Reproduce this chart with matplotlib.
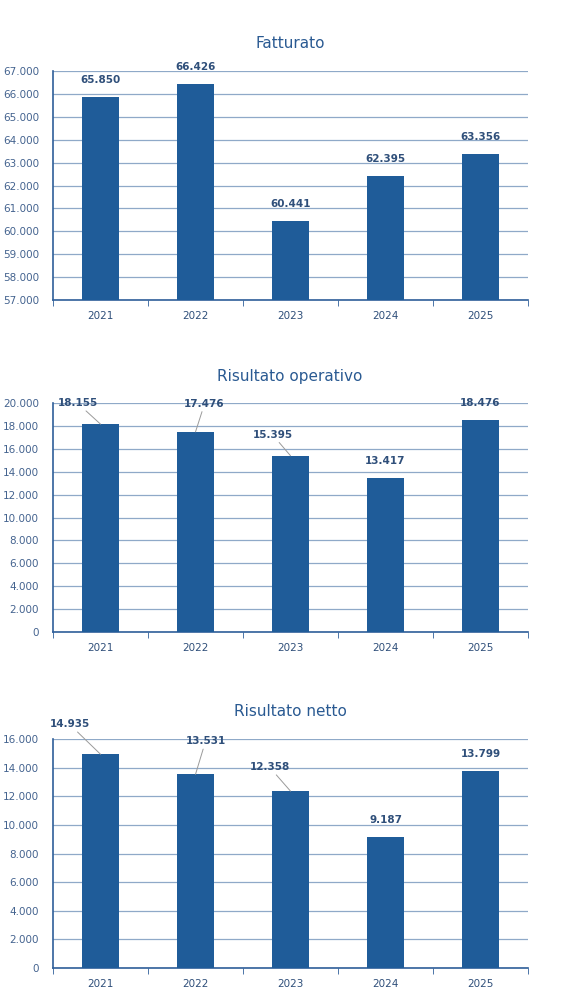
import matplotlib
matplotlib.use("Agg")
import matplotlib.pyplot as plt
import numpy as np

years = ["2021", "2022", "2023", "2024", "2025"]
fatturato = [65850, 66426, 60441, 62395, 63356]
operativo = [18155, 17476, 15395, 13417, 18476]
netto = [14935, 13531, 12358, 9187, 13799]
titles = ["Fatturato", "Risultato operativo", "Risultato netto"]

BAR = "#1f5c99"
GRID = "#8fa9c8"
TXT = "#44638f"
LBL = "#2f4f7a"

fig = plt.figure(figsize=(5.79, 10.06), dpi=100)

def fmt(v):
    return f"{int(v):,}".replace(",", ".")

# (offset_x_px, offset_y_px, leader) for labels relative to bar top
specs = [
    dict(data=fatturato, ylim=(57000, 67000), step=1000, bottom=300, top=71,
         offs=[(0, 12, False), (0, 12, False), (0, 12, False), (0, 12, False), (0, 12, False)]),
    dict(data=operativo, ylim=(0, 20000), step=2000, bottom=632, top=403,
         offs=[(-23, 16, True), (9, 23, True), (-18, 16, True), (0, 12, False), (0, 12, False)]),
    dict(data=netto, ylim=(0, 16000), step=2000, bottom=968, top=739,
         offs=[(-31, 25, True), (10, 28, True), (-21, 19, True), (0, 12, False), (0, 12, False)]),
]

x = np.arange(len(years))
for title, s in zip(titles, specs):
    ax = fig.add_axes([53/579, 1 - s["bottom"]/1006, 475/579, (s["bottom"]-s["top"])/1006])
    ax.bar(x, s["data"], width=0.39, color=BAR, zorder=3)
    ax.set_xlim(-0.5, len(years) - 0.5)
    ax.set_ylim(*s["ylim"])
    yt = np.arange(s["ylim"][0], s["ylim"][1] + 1, s["step"])
    ax.set_yticks(yt)
    ax.set_yticklabels([fmt(v) for v in yt], fontsize=7.5, color=TXT)
    ax.yaxis.grid(True, color=GRID, linewidth=0.9, zorder=0)
    ax.tick_params(axis="y", length=0, pad=10)
    ax.set_xticks(x)
    ax.set_xticklabels(years, fontsize=7.5, color=LBL)
    ax.set_xticks(np.arange(-0.5, len(years)), minor=True)
    ax.tick_params(axis="x", which="major", length=0, pad=8)
    ax.tick_params(axis="x", which="minor", length=4, color="#2f5f9a", direction="out")
    for sp in ["top", "right"]:
        ax.spines[sp].set_visible(False)
    for sp in ["left", "bottom"]:
        ax.spines[sp].set_color("#2f5f9a")
        ax.spines[sp].set_linewidth(1.2)
    for i, v in enumerate(s["data"]):
        dx, dy, leader = s["offs"][i]
        ax.annotate(fmt(v), xy=(i, v), xytext=(dx, dy), textcoords="offset pixels",
                    ha="center", va="bottom", fontsize=7.5, fontweight="bold", color=LBL,
                    arrowprops=dict(arrowstyle="-", color="#9a9a9a", lw=0.7,
                                    shrinkA=0, shrinkB=0) if leader else None,
                    zorder=5)
    fig.text(290/579, 1 - (s["top"] - 27)/1006, title, ha="center", va="center",
             fontsize=11, color="#2a5a92")

fig.savefig("out.png", dpi=100)
